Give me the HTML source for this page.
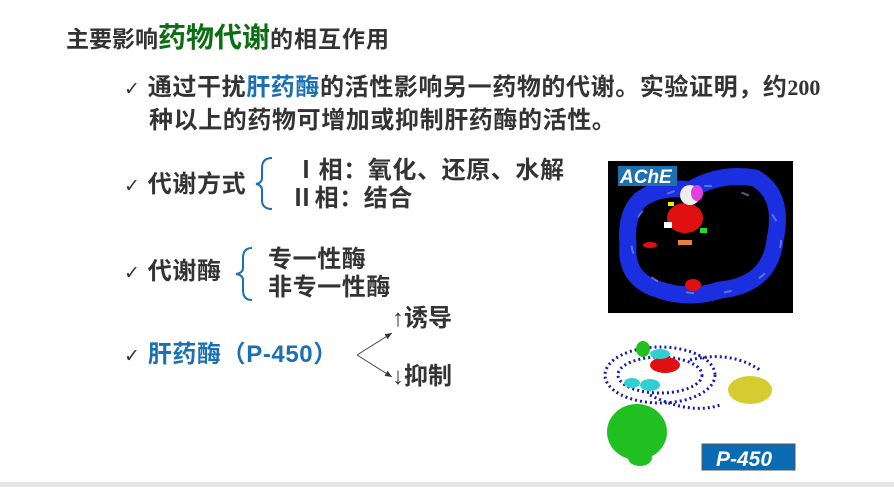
<!DOCTYPE html>
<html><head><meta charset="utf-8"><style>
html,body{margin:0;padding:0}
body{width:894px;height:487px;position:relative;background:#fff;overflow:hidden;font-family:"Liberation Sans","Noto Sans CJK SC",sans-serif;color:#333;font-weight:bold}
.t{position:absolute;white-space:nowrap;line-height:1;font-size:24px;letter-spacing:0.6px}
.ck{font-weight:normal;font-family:"DejaVu Sans",sans-serif;color:#333;font-size:19px}
.b{color:#1a6fb5}
</style></head><body>
<div class="t" style="left:66px;top:24px;font-size:23px;letter-spacing:0">主要影响<span style="color:#0b6e12;font-size:28px">药物代谢</span><span style="letter-spacing:1px">的相互作用</span></div>
<div class="t" style="left:124px;top:76px;"><span class="ck">✓</span> 通过干扰<span class="b">肝药酶</span>的活性影响另一药物的代谢。实验证明，约<span style="font-family:'Liberation Serif',serif;letter-spacing:0;font-size:22px">200</span></div>
<div class="t" style="left:149px;top:109px;">种以上的药物可增加或抑制肝药酶的活性。</div>

<div class="t" style="left:124px;top:173px;"><span class="ck">✓</span> 代谢方式</div>
<div class="t" style="left:294px;top:159px;">Ⅰ相：氧化、还原、水解</div>
<div class="t" style="left:290px;top:187px;">Ⅱ相：结合</div>

<div class="t" style="left:124px;top:260px;"><span class="ck">✓</span> 代谢酶</div>
<div class="t" style="left:268px;top:248px;">专一性酶</div>
<div class="t" style="left:268px;top:276px;">非专一性酶</div>

<div class="t" style="left:124px;top:343px;"><span class="ck">✓</span> <span class="b">肝药酶（P-450）</span></div>
<div class="t" style="left:392px;top:307px;letter-spacing:0"><span style="font-weight:normal">↑</span>诱导</div>
<div class="t" style="left:392px;top:365px;letter-spacing:0"><span style="font-weight:normal">↓</span>抑制</div>

<svg width="894" height="487" style="position:absolute;left:0;top:0">
<defs><marker id="a" markerWidth="8" markerHeight="8" refX="7" refY="4" orient="auto"><path d="M0,1 L7,4 L0,7 z" fill="#333"/></marker></defs>
<path d="M272,158 Q262,158 262,168 L262,178 Q262,183 256,184 Q262,185 262,190 L262,200 Q262,209 272,209" fill="none" stroke="#1a6fb5" stroke-width="2"/>
<path d="M252,248 Q243,248 243,258 L243,268 Q243,273 236,274 Q243,275 243,280 L243,290 Q243,300 252,300" fill="none" stroke="#1a6fb5" stroke-width="2"/>
<line x1="357" y1="355" x2="392" y2="333" stroke="#444" stroke-width="1" marker-end="url(#a)"/>
<line x1="357" y1="355" x2="392" y2="377" stroke="#444" stroke-width="1" marker-end="url(#a)"/>

<rect x="608" y="161" width="185" height="152" fill="#000"/>
<path d="M640,200 Q660,185 690,190 Q720,172 755,178 Q785,195 775,240 Q770,285 720,290 Q690,300 660,290 Q625,280 628,245 Q625,215 640,200 Z" fill="none" stroke="#1a2fe0" stroke-width="17"/>
<ellipse cx="706" cy="240" rx="75" ry="54" fill="none" stroke="#8a9cf0" stroke-width="2" stroke-dasharray="8 30" opacity="0.6"/>
<ellipse cx="685" cy="218" rx="18" ry="15" fill="#e01010"/>
<ellipse cx="690" cy="195" rx="10" ry="10" fill="#eee"/>
<ellipse cx="697" cy="193" rx="6" ry="8" fill="#e040e0"/>
<ellipse cx="693" cy="285" rx="8" ry="6" fill="#e01010"/>
<ellipse cx="650" cy="245" rx="7" ry="3" fill="#e01010"/>
<rect x="668" y="202" width="6" height="4" fill="#ee0"/>
<rect x="664" y="222" width="8" height="6" fill="#fff"/>
<rect x="700" y="228" width="7" height="5" fill="#2d2"/>
<rect x="678" y="240" width="14" height="5" fill="#e88040"/>
<rect x="618" y="166" width="59" height="20" fill="#1e6fb0"/>
<text x="620" y="183" fill="#fff" font-family="Liberation Sans,sans-serif" font-style="italic" font-size="19">AChE</text>

<g fill="none" stroke="#1a1ab0" stroke-width="3" stroke-dasharray="2 3">
<ellipse cx="660" cy="375" rx="55" ry="28"/>
<ellipse cx="660" cy="375" rx="42" ry="18"/>
<path d="M690,360 Q730,350 760,370"/>
<path d="M650,395 Q690,415 720,405"/>
</g>
<ellipse cx="750" cy="390" rx="22" ry="14" fill="#d4cc30"/>
<ellipse cx="665" cy="365" rx="15" ry="8" fill="#e01010"/>
<ellipse cx="650" cy="385" rx="10" ry="6" fill="#30d0d0"/>
<ellipse cx="632" cy="383" rx="8" ry="5" fill="#30d0d0"/>
<ellipse cx="660" cy="354" rx="10" ry="5" fill="#30d0d0"/>
<ellipse cx="643" cy="349" rx="7" ry="8" fill="#20c020"/>
<ellipse cx="637" cy="432" rx="30" ry="28" fill="#20c020"/>
<ellipse cx="640" cy="458" rx="12" ry="8" fill="#20c020"/>
<rect x="702" y="444" width="93" height="26" fill="#0a6bb5" stroke="#555" stroke-width="1"/>
<text x="716" y="466" fill="#fff" font-family="Liberation Sans,sans-serif" font-style="italic" font-size="21">P-450</text>

<rect x="0" y="482" width="894" height="5" fill="#e6e6e6"/>
</svg>
</body></html>
